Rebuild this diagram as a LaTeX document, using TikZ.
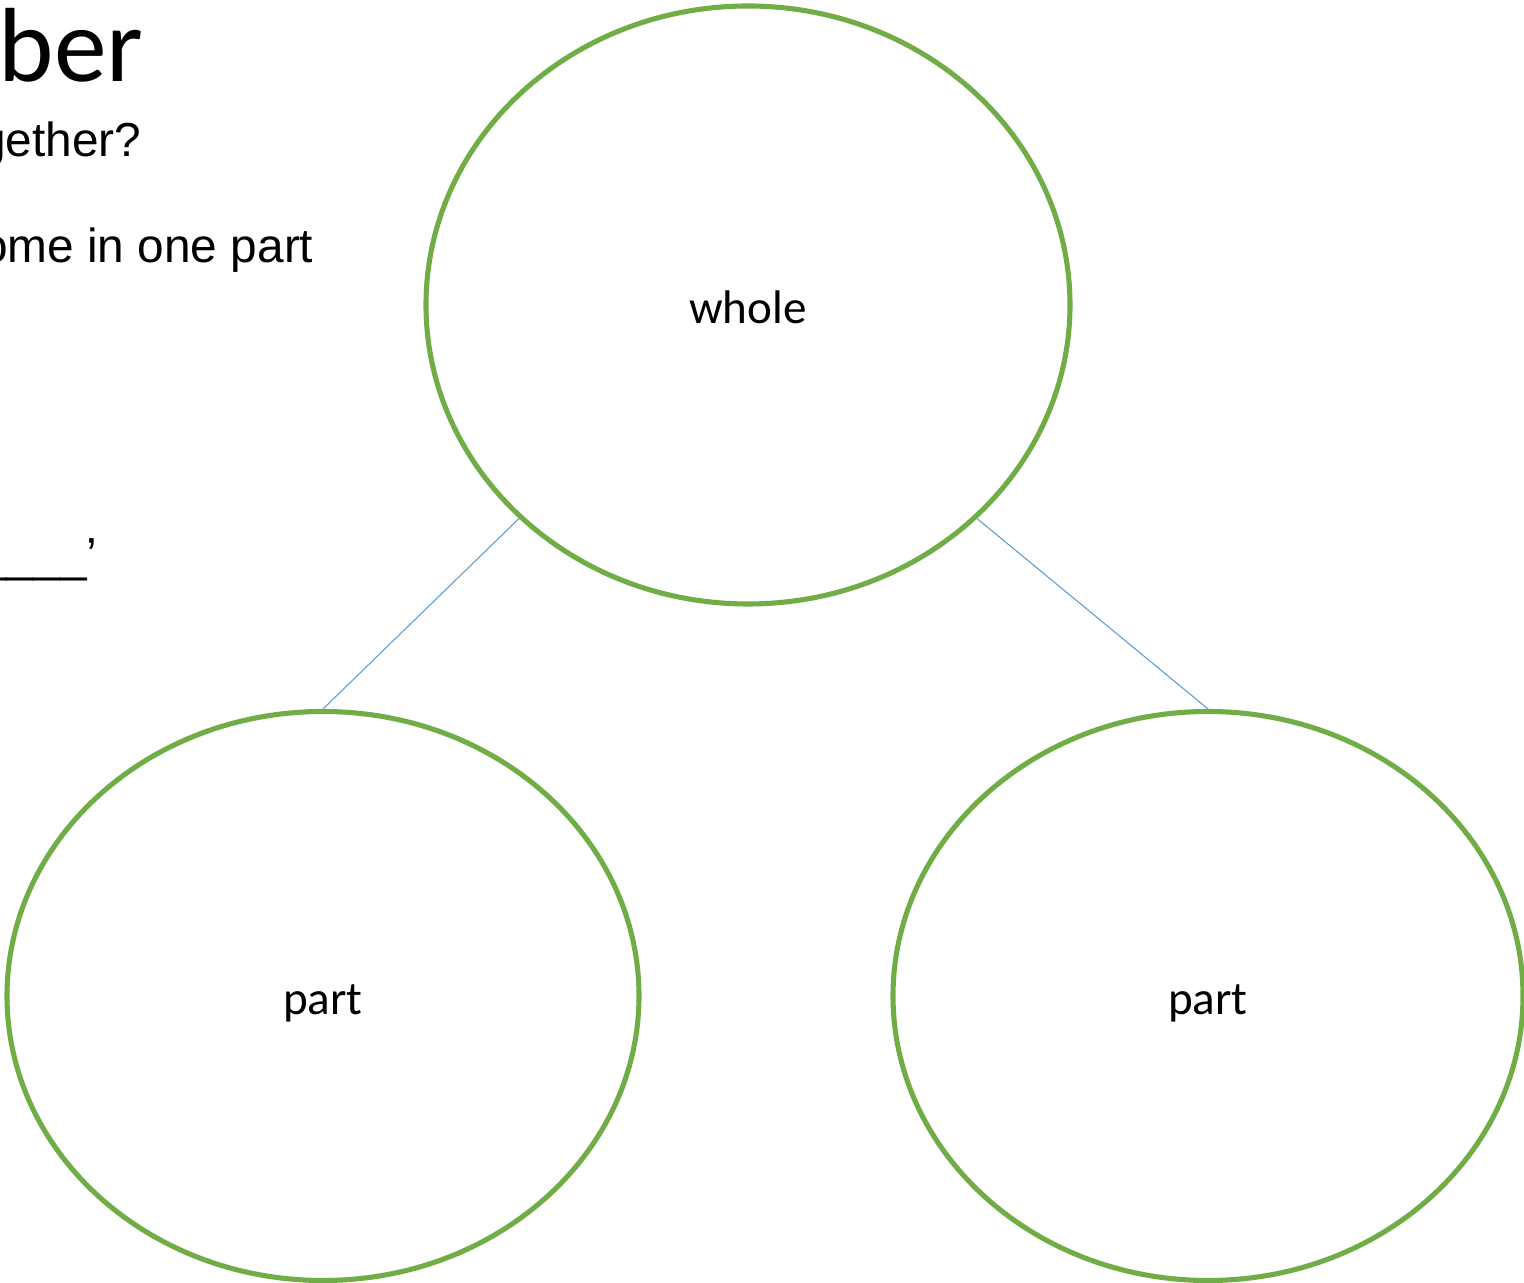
\documentclass[tikz,border=0pt]{standalone}
\usepackage{fontspec}
\setmainfont{Carlito}
\newfontfamily\arialfont{Liberation Sans}
\usetikzlibrary{arrows.meta}
\usetikzlibrary{shapes.geometric}
\usetikzlibrary{calc,positioning}

\definecolor{ringgreen}{HTML}{70AD47}
\definecolor{linkblue}{HTML}{5B9BD5}

\tikzset{
    ring/.style = {ellipse, draw = ringgreen, line width = 1.45pt, inner sep = 0pt,
                   font = \fontsize{13.4}{16}\selectfont},
    link/.style = {draw = linkblue, line width = 0.3pt},
    slide/.style = {inner sep = 0pt, font = \arialfont\fontsize{13.6}{16}\selectfont}
}

\begin{document}
\begin{tikzpicture}[>=Stealth]

    \clip (0,0) rectangle (15.24,-12.83);

    \node[inner sep = 0pt, anchor = base east, font = \fontsize{30}{36}\selectfont] (title) at (1.44,-0.82) {ber};
    \node[slide, anchor = base east] (ask) at (1.42,-1.57) {gether?};
    \node[slide, anchor = base east] (hint) at (3.14,-2.63) {ome in one part};
    \node[slide, anchor = base east] (blank) at (0.98,-5.72) {\_\_\_\_\_’};

    \node[ring, minimum width = 6.44cm, minimum height = 5.98cm] (whole) at (7.48,-3.05) {\raisebox{-0.6pt}[\height][\depth]{whole}};
    \node[ring, minimum width = 6.32cm, minimum height = 5.69cm] (partl) at (3.23,-9.96) {\raisebox{-2pt}[\height][\depth]{part}};
    \node[ring, minimum width = 6.30cm, minimum height = 5.69cm] (partr) at (12.08,-9.96) {\raisebox{-2pt}[\height][\depth]{part}};

    \draw[link] (whole.223) -- (partl.north);
    \draw[link] (whole.-43) -- (partr.north);

\end{tikzpicture}
\end{document}
